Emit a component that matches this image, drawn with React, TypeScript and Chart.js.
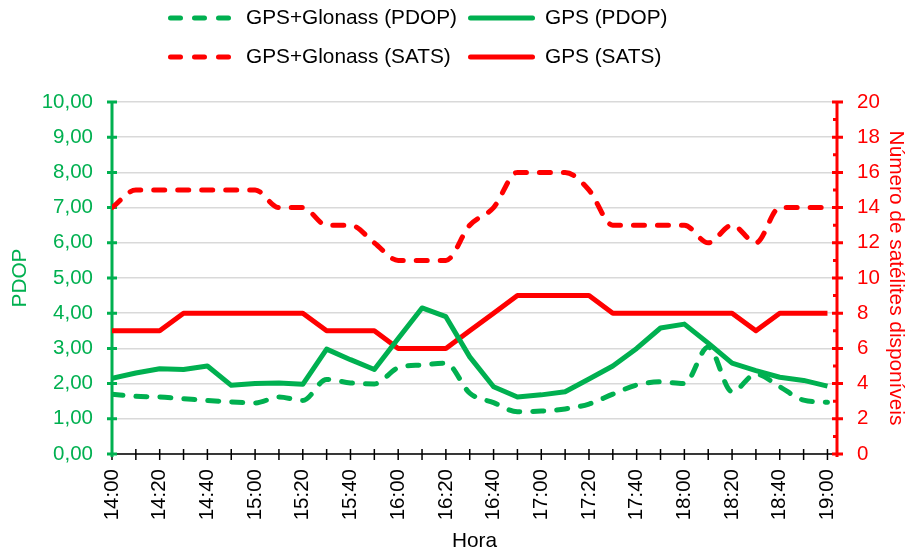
import React, { useEffect, useRef } from "react";
import { Chart, registerables } from "chart.js";

Chart.register(...registerables);

const times = [
  "14:00", "14:10", "14:20", "14:30", "14:40", "14:50", "15:00", "15:10",
  "15:20", "15:30", "15:40", "15:50", "16:00", "16:10", "16:20", "16:30",
  "16:40", "16:50", "17:00", "17:10", "17:20", "17:30", "17:40", "17:50",
  "18:00", "18:10", "18:20", "18:30", "18:40", "18:50", "19:00",
];

const gpsGlonassPdop = [
  1.70, 1.64, 1.62, 1.57, 1.52, 1.48, 1.45, 1.62, 1.52, 2.12, 2.02, 1.99,
  2.45, 2.53, 2.58, 1.73, 1.46, 1.20, 1.22, 1.28, 1.42, 1.70, 1.96, 2.05,
  2.00, 3.04, 1.77, 2.27, 1.91, 1.53, 1.47,
];
const gpsPdop = [
  2.15, 2.30, 2.42, 2.40, 2.50, 1.95, 2.00, 2.02, 1.98, 2.98, 2.68, 2.40,
  3.28, 4.15, 3.90, 2.76, 1.91, 1.62, 1.68, 1.77, 2.13, 2.50, 3.00, 3.58,
  3.69, 3.15, 2.58, 2.37, 2.18, 2.09, 1.93,
];
const gpsGlonassSats = [
  14, 15, 15, 15, 15, 15, 15, 14, 14, 13, 13, 12, 11, 11, 11, 13, 14, 16,
  16, 16, 15, 13, 13, 13, 13, 12, 13, 12, 14, 14, 14,
];
const gpsSats = [
  7, 7, 7, 8, 8, 8, 8, 8, 8, 7, 7, 7, 6, 6, 6, 7, 8, 9, 9, 9, 9, 8, 8, 8,
  8, 8, 8, 7, 8, 8, 8,
];

const legendLabels = [
  "GPS+Glonass (PDOP)",
  "GPS (PDOP)",
  "GPS+Glonass (SATS)",
  "GPS (SATS)",
];
const pdopTitle = "PDOP";
const satsTitle = "Número de satélites disponíveis";
const xTitle = "Hora";

const GREEN = "#00B050";
const RED = "#FF0000";
const FONT = "'Liberation Sans', Arial, sans-serif";
const FS = 20.5;
const FS_TEXT = 20.8;

const decor = {
  id: "decor",
  beforeDatasetsDraw(chart: any) {
    const { ctx, chartArea: a, scales } = chart;
    const x = scales.x, y = scales.y, y1 = scales.y1;
    ctx.save();
    ctx.lineCap = "butt";
    // x axis
    ctx.strokeStyle = "#000";
    ctx.lineWidth = 1.5;
    ctx.beginPath();
    ctx.moveTo(a.left, a.bottom);
    ctx.lineTo(a.right, a.bottom);
    times.forEach((_, i) => {
      const px = x.getPixelForValue(i);
      ctx.moveTo(px, a.bottom - 5);
      ctx.lineTo(px, a.bottom + 6);
    });
    ctx.stroke();
    // left axis
    ctx.strokeStyle = GREEN;
    ctx.lineWidth = 3;
    ctx.beginPath();
    ctx.moveTo(a.left, a.top - 1);
    ctx.lineTo(a.left, a.bottom + 3);
    for (let v = 0; v <= 10; v++) {
      const py = y.getPixelForValue(v);
      ctx.moveTo(a.left - 5, py);
      ctx.lineTo(a.left + 5, py);
    }
    ctx.stroke();
    // right axis
    ctx.strokeStyle = RED;
    ctx.beginPath();
    ctx.moveTo(a.right, a.top - 1);
    ctx.lineTo(a.right, a.bottom + 3);
    for (let v = 0; v <= 20; v++) {
      const py = y1.getPixelForValue(v);
      if (v % 2 === 0) {
        ctx.moveTo(a.right - 5, py);
        ctx.lineTo(a.right + 6, py);
      } else {
        ctx.moveTo(a.right - 4, py);
        ctx.lineTo(a.right, py);
      }
    }
    ctx.stroke();
    ctx.restore();
  },
  afterDraw(chart: any) {
    const { ctx, chartArea: a } = chart;
    ctx.save();
    ctx.font = `${FS_TEXT}px ${FONT}`;
    ctx.textBaseline = "middle";
    // legend
    const rows = [
      { y: 18, color: GREEN, labels: [legendLabels[0], legendLabels[1]] },
      { y: 57, color: RED, labels: [legendLabels[2], legendLabels[3]] },
    ];
    rows.forEach((r) => {
      ctx.lineWidth = 5;
      ctx.lineCap = "round";
      ctx.strokeStyle = r.color;
      ctx.setLineDash([10, 14]);
      ctx.beginPath();
      ctx.moveTo(170.5, r.y);
      ctx.lineTo(229.5, r.y);
      ctx.stroke();
      ctx.setLineDash([]);
      ctx.beginPath();
      ctx.moveTo(470.5, r.y);
      ctx.lineTo(532.5, r.y);
      ctx.stroke();
      ctx.fillStyle = "#000";
      ctx.textAlign = "left";
      ctx.fillText(r.labels[0], 246, r.y);
      ctx.fillText(r.labels[1], 545, r.y);
    });
    // titles
    const cy = (a.top + a.bottom) / 2;
    ctx.textAlign = "center";
    ctx.fillStyle = GREEN;
    ctx.save();
    ctx.translate(20, cy);
    ctx.rotate(-Math.PI / 2);
    ctx.fillText(pdopTitle, 0, 0);
    ctx.restore();
    ctx.fillStyle = RED;
    ctx.save();
    ctx.translate(896, cy);
    ctx.rotate(Math.PI / 2);
    ctx.fillText(satsTitle, 0, 0);
    ctx.restore();
    ctx.fillStyle = "#000";
    ctx.fillText(xTitle, (a.left + a.right) / 2, 541);
    ctx.restore();
  },
};

export default function App() {
  const ref = useRef<HTMLCanvasElement>(null);
  useEffect(() => {
    const toPts = (arr: number[]) => arr.map((v, i) => ({ x: i, y: v }));
    const chart = new Chart(ref.current!, {
      type: "line",
      data: {
        datasets: [
          {
            label: legendLabels[0],
            data: toPts(gpsGlonassPdop),
            yAxisID: "y",
            borderColor: GREEN,
            borderWidth: 5,
            borderDash: [11, 13],
            borderCapStyle: "round",
            borderJoinStyle: "round",
            cubicInterpolationMode: "monotone",
            pointRadius: 0,
            fill: false,
          },
          {
            label: legendLabels[1],
            data: toPts(gpsPdop),
            yAxisID: "y",
            borderColor: GREEN,
            borderWidth: 5,
            borderJoinStyle: "round",
            tension: 0,
            pointRadius: 0,
            fill: false,
          },
          {
            label: legendLabels[2],
            data: toPts(gpsGlonassSats),
            yAxisID: "y1",
            borderColor: RED,
            borderWidth: 5,
            borderDash: [11, 13],
            borderCapStyle: "round",
            borderJoinStyle: "round",
            cubicInterpolationMode: "monotone",
            pointRadius: 0,
            fill: false,
          },
          {
            label: legendLabels[3],
            data: toPts(gpsSats),
            yAxisID: "y1",
            borderColor: RED,
            borderWidth: 5,
            borderJoinStyle: "round",
            tension: 0,
            pointRadius: 0,
            fill: false,
          },
        ],
      },
      options: {
        responsive: false,
        animation: false,
        devicePixelRatio: 1,
        layout: { padding: { top: 102, left: 0, right: 0, bottom: 0 } },
        plugins: {
          legend: { display: false },
          tooltip: { enabled: false },
        },
        scales: {
          x: {
            type: "linear",
            min: 0,
            max: 30.4,
            afterBuildTicks: (s: any) => {
              s.ticks = times.map((_, i) => ({ value: i }));
            },
            afterFit: (s: any) => {
              s.height = 97;
            },
            grid: { display: false, drawTicks: false },
            border: { display: false },
            ticks: {
              autoSkip: false,
              minRotation: 90,
              maxRotation: 90,
              padding: 15,
              color: "#000",
              font: { family: FONT, size: FS },
              callback: (v: any) => {
                const i = Math.round(Number(v));
                return i % 2 === 0 ? times[i] : "";
              },
            },
          },
          y: {
            position: "left",
            min: 0,
            max: 10,
            afterFit: (s: any) => {
              s.width = 112;
            },
            grid: { color: "#d9d9d9", lineWidth: 1.5, drawTicks: false },
            border: { display: false },
            ticks: {
              stepSize: 1,
              padding: 19,
              color: GREEN,
              font: { family: FONT, size: FS },
              callback: (v: any) => Number(v).toFixed(2).replace(".", ","),
            },
          },
          y1: {
            position: "right",
            min: 0,
            max: 20,
            afterFit: (s: any) => {
              s.width = 75;
            },
            grid: { display: false, drawTicks: false },
            border: { display: false },
            ticks: {
              stepSize: 2,
              padding: 20,
              color: RED,
              font: { family: FONT, size: FS },
              callback: (v: any) => String(v),
            },
          },
        },
      },
      plugins: [decor],
    } as any);
    return () => chart.destroy();
  }, []);
  return (
    <div style={{ position: "absolute", left: 0, top: 0, width: 912, height: 551, background: "#fff" }}>
      <canvas ref={ref} width={912} height={551} style={{ display: "block" }} />
    </div>
  );
}
